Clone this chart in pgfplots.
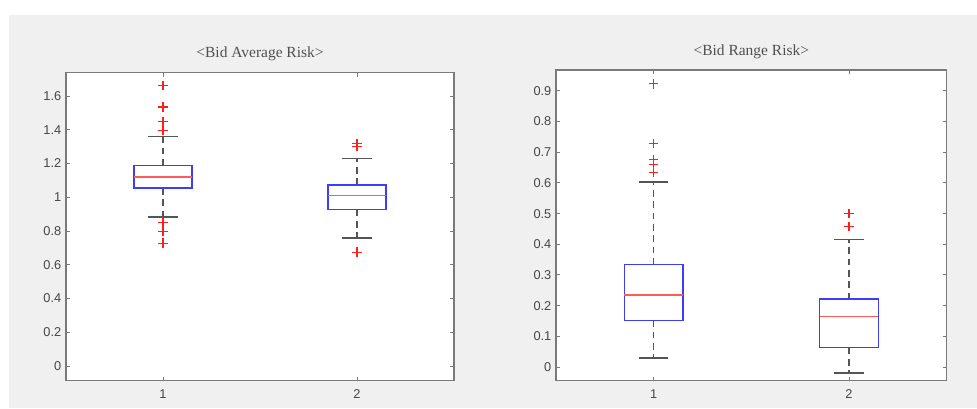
\documentclass[border=0pt]{standalone}
\usepackage{fontspec}
\setmainfont{Liberation Serif}
\newfontfamily\arial{Liberation Sans}
\usepackage{pgfplots}
\pgfplotsset{compat=1.18}
\usepgfplotslibrary{statistics}
\definecolor{figbg}{HTML}{F0F0F0}
\definecolor{axcol}{HTML}{7A7A7A}
\definecolor{boxblue}{RGB}{60,60,255}
\definecolor{medred}{RGB}{255,90,90}
\definecolor{whisk}{RGB}{85,85,85}
\definecolor{outred}{RGB}{255,30,30}
\definecolor{tickcol}{HTML}{454545}
\definecolor{titlecol}{HTML}{505050}
\pgfplotsset{
  mbox/.style={
    draw=outred,
    boxplot/draw direction=y,
    boxplot/box extend=0.3,
    boxplot/whisker extend=0.15,
    boxplot/every box/.style={draw=boxblue, line width=1.1pt, solid},
    boxplot/every median/.style={draw=medred, line width=1.1pt, solid},
    boxplot/draw/lower whisker/.code={%
      \draw[whisk, line width=1.2pt, dash pattern=on 5pt off 3.5pt]
        (boxplot cs:\pgfplotsboxplotvalue{lower quartile}) -- (boxplot cs:\pgfplotsboxplotvalue{lower whisker});
      \draw[whisk, line width=1.2pt, solid]
        (boxplot whisker cs:\pgfplotsboxplotvalue{lower whisker},0) -- (boxplot whisker cs:\pgfplotsboxplotvalue{lower whisker},1);
    },
    boxplot/draw/upper whisker/.code={%
      \draw[whisk, line width=1.2pt, dash pattern=on 5pt off 3.5pt]
        (boxplot cs:\pgfplotsboxplotvalue{upper quartile}) -- (boxplot cs:\pgfplotsboxplotvalue{upper whisker});
      \draw[whisk, line width=1.2pt, solid]
        (boxplot whisker cs:\pgfplotsboxplotvalue{upper whisker},0) -- (boxplot whisker cs:\pgfplotsboxplotvalue{upper whisker},1);
    },
    mark=+, mark size=3.5pt, mark options={draw=outred, line width=0.9pt, solid},
  },
  mataxis/.style={
    anchor=south west,
    scale only axis,
    xmin=0.5, xmax=2.5,
    xtick={1,2},
    xtick pos=both, ytick pos=both,
    xticklabel pos=lower, yticklabel pos=left,
    tick align=inside,
    major tick length=3pt,
    tick style={axcol, line width=0.7pt},
    axis line style={axcol, line width=1.1pt},
    axis background/.style={fill=white},
    /pgf/number format/assume math mode=true,
    ticklabel style={font=\arial\fontsize{9.6}{11}\selectfont, text=tickcol},
    xticklabel style={yshift=-3pt},
    title style={anchor=center, yshift=8pt, font=\fontsize{11.6}{14}\selectfont, text=titlecol},
  },
}
\begin{document}
\begin{tikzpicture}
\fill[white] (0pt,0pt) rectangle (732.75pt,306pt);
\fill[figbg] (6.75pt,0pt) rectangle (732.75pt,294.75pt);

\begin{axis}[mataxis,
  at={(49.5pt,20.475pt)},
  width=291pt, height=231pt,
  ymin=-0.087, ymax=1.738,
  ytick={0,0.2,0.4,0.6,0.8,1,1.2,1.4,1.6},
  title={<Bid Average Risk>},
]
\addplot[mbox, boxplot prepared={draw position=1,
  lower whisker=0.882, lower quartile=1.054, median=1.119,
  upper quartile=1.187, upper whisker=1.360}]
  table[row sep=\\, y index=0] {v\\ 1.662\\ 1.537\\ 1.530\\ 1.447\\ 1.396\\ 0.849\\ 0.798\\ 0.728\\};
\addplot[mbox, boxplot prepared={draw position=2,
  lower whisker=0.758, lower quartile=0.926, median=1.011,
  upper quartile=1.072, upper whisker=1.230}]
  table[row sep=\\, y index=0] {v\\ 1.319\\ 1.303\\ 0.675\\};
\end{axis}

\begin{axis}[mataxis,
  at={(417pt,20.475pt)},
  width=293pt, height=233pt,
  ymin=-0.0447, ymax=0.968,
  ytick={0,0.1,0.2,0.3,0.4,0.5,0.6,0.7,0.8,0.9},
  title={<Bid Range Risk>},
]
\addplot[mbox, boxplot prepared={draw position=1,
  lower whisker=0.030, lower quartile=0.152, median=0.235,
  upper quartile=0.334, upper whisker=0.603}]
  table[row sep=\\, y index=0] {v\\ 0.923\\ 0.728\\ 0.677\\ 0.659\\ 0.635\\};
\addplot[mbox, boxplot prepared={draw position=2,
  lower whisker=-0.020, lower quartile=0.063, median=0.164,
  upper quartile=0.221, upper whisker=0.416}]
  table[row sep=\\, y index=0] {v\\ 0.501\\ 0.457\\};
\end{axis}
\end{tikzpicture}
\end{document}
